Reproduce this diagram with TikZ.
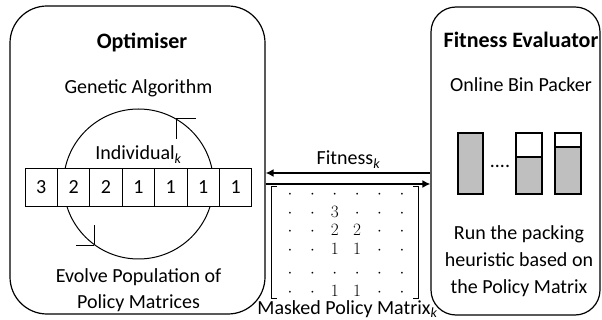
\documentclass[tikz,border=0pt]{standalone}
\usepackage[no-math]{fontspec}
\setmainfont{Carlito}
\usetikzlibrary{arrows.meta,calc,matrix}
\definecolor{binfill}{RGB}{191,191,191}
\begin{document}
\begin{tikzpicture}[x=1pt,y=-1pt,
  box/.style={draw,line width=1.2pt,rounded corners=#1,inner sep=0pt},
  txt/.style={font=\fontsize{20}{24}\selectfont,inner sep=0pt,anchor=base},
  ttl/.style={font=\fontsize{22}{26}\selectfont\bfseries,inner sep=0pt,anchor=base},
  cell/.style={draw,line width=0.9pt,fill=white,minimum width=32.4pt,minimum height=38pt,inner sep=0pt,font=\fontsize{20}{24}\selectfont},
  flow/.style={line width=2pt,-{Latex[length=8pt,width=8pt]}},
  barb/.style={line width=1pt},
  binbox/.style={draw,line width=1.2pt},
]
\useasboundingbox (0,0) rectangle (602,320);

% boxes
\node[box=37pt,minimum width=255pt,minimum height=308pt] (lbox) at (137.5,160) {};
\node[box=25pt,minimum width=169pt,minimum height=308pt] (rbox) at (515.5,161) {};

% left texts
\node[ttl] (opt) at (142,49) {Optimiser};
\node[txt] (ga) at (138.5,94) {Genetic Algorithm};
\node[txt] (evo1) at (138.5,283) {Evolve Population of};
\node[txt] (evo2) at (138.5,308) {Policy Matrices};

% cycle
\node[draw,circle,line width=1pt,minimum size=150pt,inner sep=0pt] (cyc) at (138.5,184) {};
\draw[barb] (cyc.60) -- ++(20,0);
\draw[barb] (cyc.60) -- ++(0,20);
\draw[barb] (cyc.234) -- ++(-18,0);
\draw[barb] (cyc.234) -- ++(0,-20);
\node[txt] (ind) at (138.5,160) {Individual\textsubscript{\textit{k}}};

\foreach \v [count=\i] in {3,2,2,1,1,1,1}
  \node[cell] (c\i) at ({41.2+32.4*(\i-1)},187) {\v};

% right texts
\node[ttl] (fe) at (521,48) {Fitness Evaluator};
\node[txt] (obp) at (521,92) {Online Bin Packer};
\node[txt] (run1) at (519,240) {Run the packing};
\node[txt] (run2) at (519,267) {heuristic based on};
\node[txt] (run3) at (519,293) {the Policy Matrix};

% bins
\draw[binbox,fill=binfill] (458,133) rectangle (483,194);
\node[txt] (dots) at (500,168) {....};
\draw[binbox,fill=binfill] (516,157) rectangle (542,194);
\draw[binbox] (516,133) rectangle (542,157);
\draw[binbox,fill=binfill] (555,147) rectangle (581,194);
\draw[binbox] (555,133) rectangle (581,147);

% arrows
\coordinate (fy1) at (0,173);
\coordinate (fy2) at (0,184);
\draw[flow] (fy1 -| rbox.west) -- (fy1 -| lbox.east);
\draw[flow] (fy2 -| lbox.east) -- (fy2 -| rbox.west);
\node[txt] (fit) at (348.5,165) {Fitness\textsubscript{\textit{k}}};

% matrix
\matrix (mpm) [matrix of math nodes, inner sep=0pt,
  nodes={minimum width=22.4pt,minimum height=17pt,inner sep=0pt,font=\fontsize{16}{16}\selectfont}]
  at (346,243.5) {
\cdot & \cdot & \cdot & \cdot & \cdot & \cdot \\
\cdot & \cdot & 3 & \cdot & \cdot & \cdot \\
\cdot & \cdot & 2 & 2 & \cdot & \cdot \\
\cdot & \cdot & 1 & 1 & \cdot & \cdot \\[6pt]
\cdot & \cdot & \cdot & \cdot & \cdot & \cdot \\
\cdot & \cdot & 1 & 1 & \cdot & \cdot \\
};
\draw[line width=0.7pt] ($(mpm.north west)+(-2,0.5)$) -- ++(-5,0) -- ($(mpm.south west)+(-7,-2.5)$) -- ++(5,0);
\draw[line width=0.7pt] ($(mpm.north east)+(0,0.5)$) -- ++(5,0) -- ($(mpm.south east)+(5,-2.5)$) -- ++(-5,0);
\node[txt] (mpmlab) at (347.5,314) {Masked Policy Matrix\textsubscript{\textit{k}}};
\end{tikzpicture}
\end{document}
